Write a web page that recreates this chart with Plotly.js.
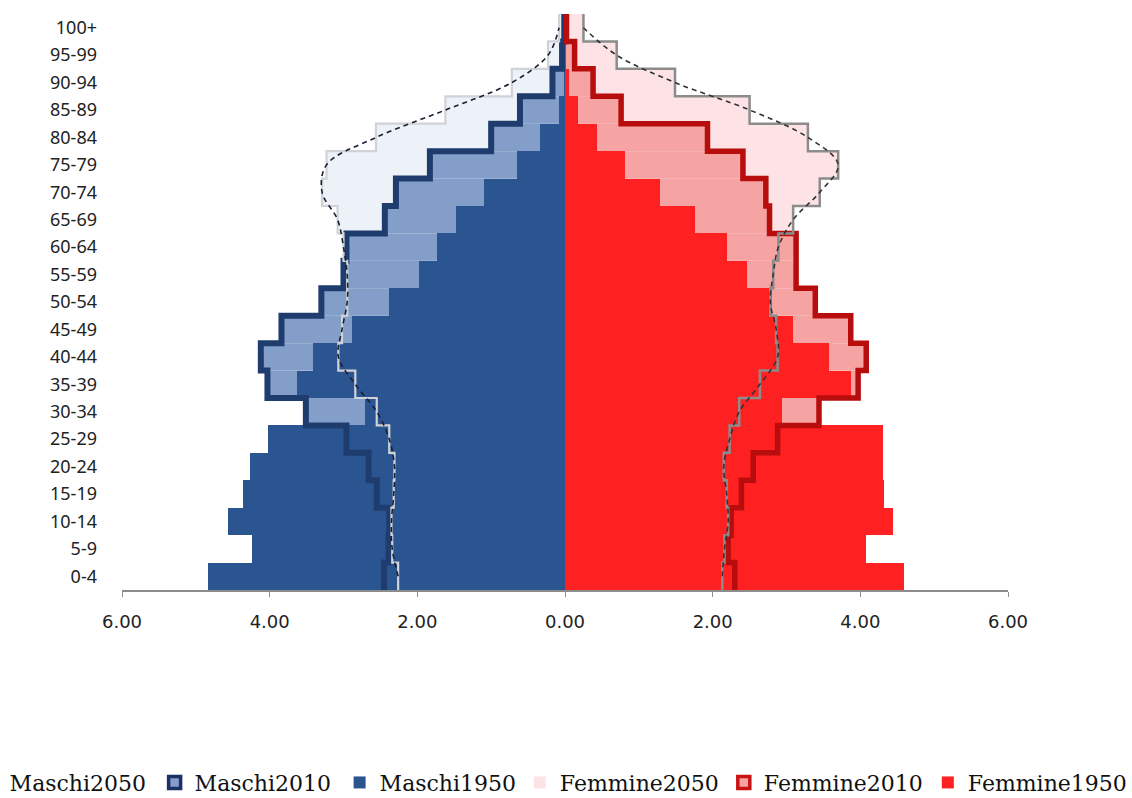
<!DOCTYPE html>
<html>
<head>
<meta charset="utf-8">
<script src="https://cdn.plot.ly/plotly-3.0.1.min.js"></script>
<style>
  html, body { margin: 0; padding: 0; background: #ffffff; }
  #chart { width: 1132px; height: 798px; }
</style>
</head>
<body>
<div id="chart"></div>
<script>
// ---- data (percent of total population) ----
var categories = ['0-4','5-9','10-14','15-19','20-24','25-29','30-34','35-39','40-44','45-49',
                  '50-54','55-59','60-64','65-69','70-74','75-79','80-84','85-89','90-94','95-99','100+'];

var maschi1950  = [4.83, 4.24, 4.56, 4.36, 4.27, 4.02, 2.71, 3.63, 3.41, 2.89, 2.38, 1.98, 1.74, 1.47, 1.10, 0.65, 0.34, 0.08, 0.02, 0.00, 0.00];
var maschi2010  = [2.45, 2.39, 2.38, 2.55, 2.66, 2.96, 3.51, 4.03, 4.12, 3.84, 3.30, 3.00, 2.96, 2.44, 2.29, 1.83, 1.00, 0.61, 0.17, 0.04, 0.01];
var maschi2050  = [2.26, 2.34, 2.35, 2.32, 2.31, 2.38, 2.55, 2.84, 3.07, 3.02, 2.95, 2.95, 3.00, 3.08, 3.29, 3.23, 2.56, 1.62, 0.72, 0.23, 0.08];

var femmine1950 = [4.59, 4.07, 4.44, 4.32, 4.31, 4.31, 2.94, 3.88, 3.58, 3.09, 2.80, 2.46, 2.19, 1.76, 1.29, 0.81, 0.43, 0.18, 0.05, 0.01, 0.00];
var femmine2010 = [2.30, 2.21, 2.25, 2.39, 2.55, 2.88, 3.44, 3.97, 4.08, 3.87, 3.39, 3.13, 3.13, 2.77, 2.72, 2.41, 1.93, 0.76, 0.38, 0.13, 0.02];
var femmine2050 = [2.13, 2.16, 2.21, 2.19, 2.15, 2.23, 2.36, 2.64, 2.88, 2.86, 2.78, 2.82, 2.89, 3.09, 3.45, 3.70, 3.29, 2.50, 1.49, 0.70, 0.25];

var xTickVals   = [-6, -4, -2, 0, 2, 4, 6];
var xTickLabels = ['6.00', '4.00', '2.00', '0.00', '2.00', '4.00', '6.00'];

var seriesNames = {
  m2050: 'Maschi2050', m2010: 'Maschi2010', m1950: 'Maschi1950',
  f2050: 'Femmine2050', f2010: 'Femmine2010', f1950: 'Femmine1950'
};

// ---- helpers ----
var idx = categories.map(function (c, i) { return i; });
var n = categories.length;
function neg(a) { return a.map(function (v) { return -v; }); }
function stepX(a) { return [a[0]].concat(a, [a[a.length - 1]]); }
var stepY = [-0.5].concat(idx, [n - 0.5]);
function firstOnly(a, w) { return a.map(function (v, i) { return i === 0 ? w : 0; }); }
var boundaries = [-0.5].concat(idx.map(function (i) { return i + 0.5; }));

function barTrace(x, name, color, legend, rank, lineColor, lineW) {
  return {
    type: 'bar', orientation: 'h', x: x, y: idx, name: name,
    legend: legend, legendrank: rank,
    marker: { color: color, line: { color: lineColor || color, width: lineW || 0 } },
    hoverinfo: 'skip'
  };
}
function stepTrace(x, color, width) {
  return {
    type: 'scatter', mode: 'lines', x: stepX(x), y: stepY,
    line: { shape: 'vhv', color: color, width: width },
    showlegend: false, hoverinfo: 'skip'
  };
}
function dashTrace(x, color) {
  return {
    type: 'scatter', mode: 'lines', x: x, y: idx,
    line: { shape: 'spline', smoothing: 1, color: color, width: 1.6, dash: '5px,4px' },
    showlegend: false, hoverinfo: 'skip'
  };
}

var traces = [
  barTrace(neg(maschi2050), seriesNames.m2050, '#edf1f8', 'legend', 1),
  barTrace(femmine2050, seriesNames.f2050, '#fde3e5', 'legend2', 4),
  barTrace(neg(maschi2010), seriesNames.m2010, '#839ec8', 'legend', 2, '#1c3068', firstOnly(maschi2010, 3.5)),
  barTrace(femmine2010, seriesNames.f2010, '#f6a3a3', 'legend2', 5, '#c81414', firstOnly(femmine2010, 3.5)),
  stepTrace(neg(maschi2010), '#1e3c6e', 6),
  stepTrace(femmine2010, '#b80d0d', 5.5),
  barTrace(neg(maschi1950), seriesNames.m1950, '#2b5590', 'legend', 3),
  barTrace(femmine1950, seriesNames.f1950, '#ff2121', 'legend2', 6),
  stepTrace(neg(maschi2050), '#cfd2d6', 2.2),
  stepTrace(femmine2050, '#8c8c8c', 2.5),
  dashTrace(neg(maschi2050), '#1a1f33'),
  dashTrace(femmine2050, '#333333')
];

var legendFont = { family: 'DejaVu Serif', size: 22, color: '#111111' };

var layout = {
  width: 1132, height: 798,
  margin: { l: 122, r: 124, t: 14, b: 208, autoexpand: false },
  paper_bgcolor: '#ffffff', plot_bgcolor: '#ffffff',
  barmode: 'overlay', bargap: 0,
  showlegend: true,
  xaxis: {
    range: [-6, 6], tickvals: xTickVals, ticktext: xTickLabels,
    showgrid: false, zeroline: false,
    showline: true, linecolor: '#8c8c8c', linewidth: 1.5,
    ticks: 'outside', ticklen: 5, tickcolor: '#8c8c8c', tickwidth: 1,
    ticklabelstandoff: 10,
    tickfont: { family: 'DejaVu Sans', size: 18, color: '#222222' },
    fixedrange: true
  },
  yaxis: {
    range: [-0.5, n - 0.5], tickvals: idx, ticktext: categories,
    showgrid: false, zeroline: false, showline: false, ticks: '',
    ticklabelstandoff: 24,
    tickfont: { family: 'Noto Sans', size: 18, color: '#222222' },
    fixedrange: true
  },
  yaxis2: {
    overlaying: 'y', anchor: 'free', position: 0.5,
    range: [-0.5, n - 0.5], tickvals: boundaries,
    showticklabels: false, showgrid: false, zeroline: false,
    showline: true, linecolor: '#9c9c9c', linewidth: 4,
    ticks: 'outside', ticklen: 5, tickcolor: '#7a7a7a', tickwidth: 1,
    fixedrange: true
  },
  legend: {
    orientation: 'h', x: -0.172, xanchor: 'left', y: -0.298, yanchor: 'top',
    font: legendFont, entrywidth: 140, entrywidthmode: 'pixels',
    bgcolor: 'rgba(0,0,0,0)', borderwidth: 0, traceorder: 'normal'
  },
  legend2: {
    orientation: 'h', x: 0.449, xanchor: 'left', y: -0.298, yanchor: 'top',
    font: legendFont, entrywidth: 159, entrywidthmode: 'pixels',
    bgcolor: 'rgba(0,0,0,0)', borderwidth: 0, traceorder: 'normal'
  }
};

Plotly.newPlot('chart', traces, layout, { displayModeBar: false, staticPlot: true });
</script>
</body>
</html>
